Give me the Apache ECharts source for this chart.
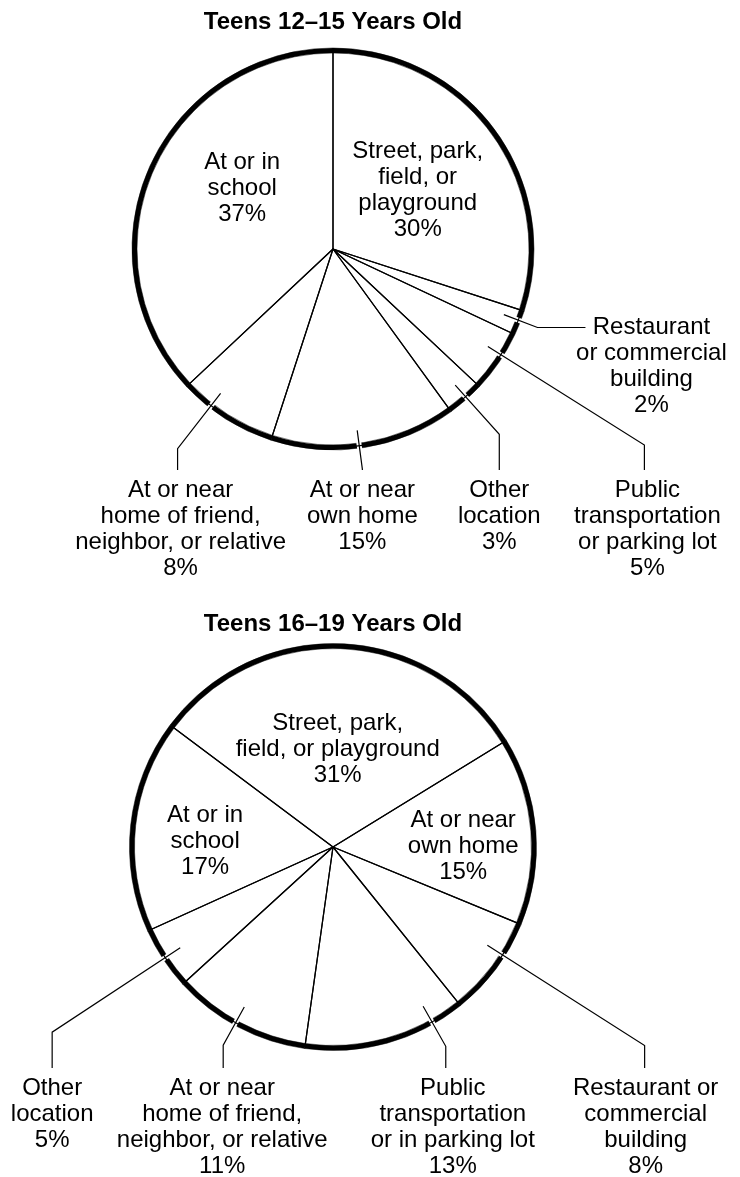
<!DOCTYPE html>
<html lang="en">
<head>
    <meta charset="UTF-8">
    <title>Where teens are victimized</title>
    <style>
        html, body { margin: 0; padding: 0; background: #fff; }
        #chart { width: 740px; height: 1177px; }
    </style>
</head>
<body>
<div id="chart"></div>
<script src="https://cdn.jsdelivr.net/npm/echarts/dist/echarts.min.js"></script>
<script type="text/javascript">
    var font = '"Liberation Sans", Arial, Helvetica, sans-serif';

    var titles = ['Teens 12\u201315 Years Old', 'Teens 16\u201319 Years Old'];

    // Teens 12-15, clockwise from 12 o'clock
    var names1 = [
        'Street, park,\nfield, or\nplayground',
        'Restaurant\nor commercial\nbuilding',
        'Public\ntransportation\nor parking lot',
        'Other\nlocation',
        'At or near\nown home',
        'At or near\nhome of friend,\nneighbor, or relative',
        'At or in\nschool'
    ];
    var values1 = [30, 2, 5, 3, 15, 8, 37];

    // Teens 16-19, clockwise from the street slice
    var names2 = [
        'Street, park,\nfield, or playground',
        'At or near\nown home',
        'Restaurant or\ncommercial\nbuilding',
        'Public\ntransportation\nor in parking lot',
        'At or near\nhome of friend,\nneighbor, or relative',
        'Other\nlocation',
        'At or in\nschool'
    ];
    var values2 = [31, 15, 8, 13, 11, 5, 17];

    // where each label sits: inside ones get a nudge, outside ones a leader line
    // turn = degrees off the slice middle, reach = radius of the elbow
    var place1 = [
        {inside: true, dx: 2, dy: 1},
        {turn: -0.6, reach: 219, run: 48, dx: 66},
        {turn: -2, reach: 368, dx: 3},
        {turn: -0.5, reach: 249, dx: 0},
        {turn: 1.4, reach: 222, dx: 0},
        {turn: 5.5, reach: 253, dx: 3},
        {inside: true, dx: 3, dy: -20}
    ];
    var place2 = [
        {inside: true, dx: 0, dy: 6},
        {inside: true, dx: 27, dy: 8},
        {turn: -4.3, reach: 369.5, dx: 1},
        {turn: -14.1, reach: 229, dx: 7},
        {turn: 1.2, reach: 226.5, dx: -1},
        {turn: 0, reach: 336.4, dx: 0},
        {inside: true, dx: -25, dy: 6}
    ];

    var pie1 = {cx: 333, cy: 249, r: 198.5, start: 90, r0: 183, labelTop: 477, titleTop: 10};
    var pie2 = {cx: 333, cy: 847, r: 201, start: 143.2, r0: 183, labelTop: 1075, titleTop: 612};

    function leaderLayout(cfg, place) {
        return function (params) {
            var st = place[params.dataIndex];
            if (st.inside) {
                return {dx: st.dx, dy: st.dy};
            }
            var pts = params.labelLinePoints;
            if (!pts) return {};
            var p0 = pts[0];
            var a = Math.atan2(p0[0] - cfg.cx, cfg.cy - p0[1]) + st.turn * Math.PI / 180;
            var sx = Math.sin(a), sy = -Math.cos(a);
            var start = [cfg.cx + sx * cfg.r0, cfg.cy + sy * cfg.r0];
            var elbow = [cfg.cx + sx * st.reach, cfg.cy + sy * st.reach];
            var end;
            if (st.run) {
                // short radial piece, then a horizontal run to the label
                end = [elbow[0] + st.run, elbow[1]];
                return {
                    x: end[0] + st.dx, y: end[1] - 13,
                    align: 'center', verticalAlign: 'top',
                    labelLinePoints: [start, elbow, end]
                };
            }
            end = [elbow[0], Math.max(elbow[1], cfg.labelTop - 7)];
            return {
                x: elbow[0] + st.dx, y: cfg.labelTop,
                align: 'center', verticalAlign: 'top',
                labelLinePoints: [start, elbow, end]
            };
        };
    }

    // halo = true gives a white, wider copy of the leaders that cuts the rim
    function pieSeries(names, values, cfg, place, halo) {
        var data = names.map(function (n, i) {
            var item = {name: n, value: values[i]};
            if (place[i].inside) {
                item.label = {position: 'inside'};
                item.labelLine = {show: false};
            }
            return item;
        });
        return {
            type: 'pie',
            center: [cfg.cx, cfg.cy],
            radius: cfg.r,
            startAngle: cfg.start,
            clockwise: true,
            avoidLabelOverlap: false,
            silent: true,
            z: halo ? 4 : 5,
            // no fill, so the leader lines show inside the circle
            itemStyle: halo
                ? {color: 'rgba(255,255,255,0)', borderWidth: 0}
                : {color: 'rgba(255,255,255,0)', borderColor: '#000', borderWidth: 1.2},
            label: {
                show: true,
                position: 'outside',
                formatter: '{b}\n{c}%',
                color: halo ? 'rgba(0,0,0,0)' : '#000',
                fontFamily: font,
                fontSize: 24,
                lineHeight: 26,
                align: 'center',
                overflow: 'none'
            },
            labelLine: {
                show: true, length: 10, length2: 10, smooth: false,
                lineStyle: halo ? {color: '#fff', width: 5} : {color: '#000', width: 1.2}
            },
            labelLayout: leaderLayout(cfg, place),
            emphasis: {disabled: true},
            data: data
        };
    }

    // heavy rim drawn as a thin black ring over the same slices
    function rimSeries(values, cfg) {
        return {
            type: 'pie',
            center: [cfg.cx, cfg.cy],
            radius: [cfg.r - 2.5, cfg.r + 2.5],
            startAngle: cfg.start,
            clockwise: true,
            silent: true,
            z: 3,
            label: {show: false},
            labelLine: {show: false},
            itemStyle: {color: '#000', borderColor: '#000', borderWidth: 0.5},
            emphasis: {disabled: true},
            data: values.map(function (v) { return {value: v}; })
        };
    }

    function titleOf(text, cfg) {
        return {
            text: text,
            left: cfg.cx,
            textAlign: 'center',
            top: cfg.titleTop,
            padding: 0,
            textStyle: {fontFamily: font, fontSize: 24, fontWeight: 'bold', color: '#000'}
        };
    }

    var chart = echarts.init(document.getElementById('chart'), null, {renderer: 'canvas'});
    chart.setOption({
        animation: false,
        backgroundColor: '#fff',
        title: [titleOf(titles[0], pie1), titleOf(titles[1], pie2)],
        series: [
            rimSeries(values1, pie1),
            pieSeries(names1, values1, pie1, place1, true),
            pieSeries(names1, values1, pie1, place1, false),
            rimSeries(values2, pie2),
            pieSeries(names2, values2, pie2, place2, true),
            pieSeries(names2, values2, pie2, place2, false)
        ]
    });
</script>
</body>
</html>
